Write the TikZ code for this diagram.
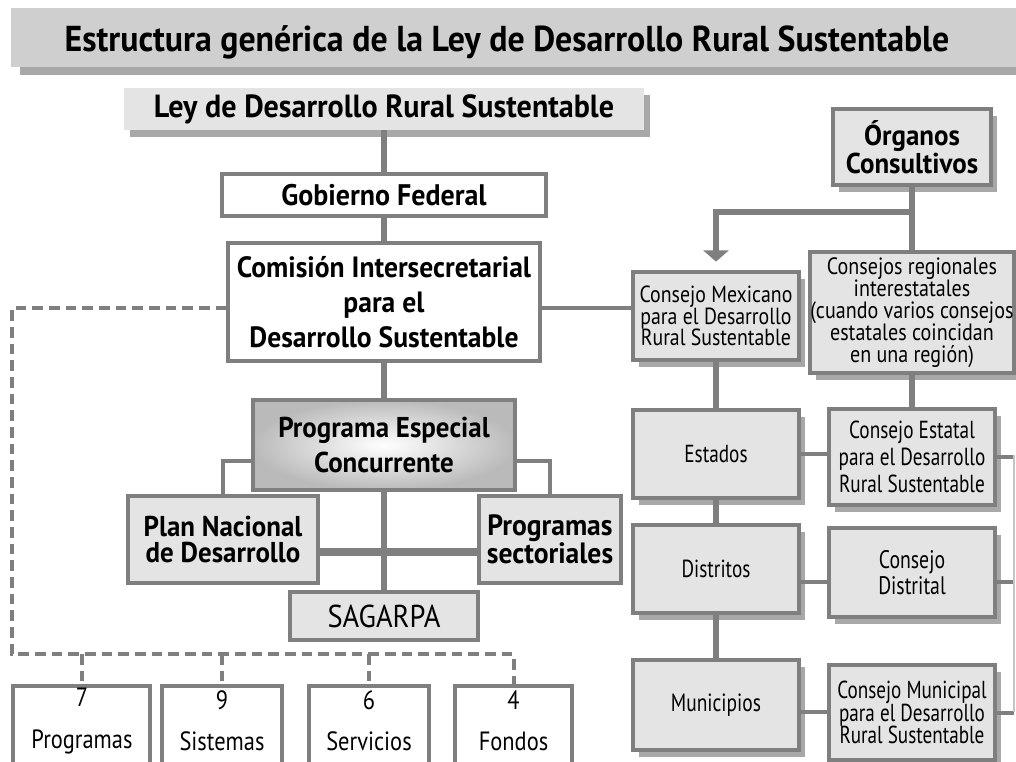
\documentclass[tikz,border=0pt]{standalone}
\usepackage{fontspec}
\setmainfont{PT Sans}[UprightFeatures={FakeStretch=0.85}, BoldFeatures={FakeStretch=0.94}]
\newfontfamily\narrowf{PT Sans}[FakeStretch=0.78]
\newfontfamily\widef{PT Sans}[FakeStretch=0.9]
\usetikzlibrary{shadows,arrows.meta,calc}
\definecolor{lg}{HTML}{7F7F7F}
\definecolor{bfill}{HTML}{E4E4E4}
\definecolor{shd}{HTML}{A8A8A8}
\definecolor{tbar}{HTML}{CFCFCF}
\definecolor{faint}{HTML}{C4C4C4}
\newcommand\myfs[2]{\fontsize{#1}{#2}\selectfont}
\newcommand\mybox[7][]{%
  \node[#1, minimum width={(#5-#3)*0.75pt}, minimum height={(#6-#4)*0.75pt}] (#2) at ({(#3+#5)/2},{(#4+#6)/2}) {#7};}
\tikzset{
  box/.style={draw=lg, line width=2.6pt, inner sep=0pt, align=center},
  gbox/.style={box, fill=bfill},
  wbox/.style={box, fill=white},
  shad/.style={drop shadow={shadow xshift=4.5pt, shadow yshift=-5.25pt, fill=shd, opacity=1}},
  conn/.style={draw=lg, line width=4pt},
  thinconn/.style={draw=lg, line width=3pt},
  thickconn/.style={draw=lg, line width=6pt},
  dashconn/.style={draw=lg, line width=3pt, dash pattern=on 8pt off 4.5pt},
  faintline/.style={draw=faint, line width=1.2pt},
  txt/.style={align=center, inner sep=0pt}
}
\begin{document}
\begin{tikzpicture}[x=0.75pt,y=-0.75pt]
\useasboundingbox (0,0) rectangle (1016,762);
\clip (0,0) rectangle (1016,762);
\fill[white] (0,0) rectangle (1016,762);

% title
\mybox[fill=tbar, inner sep=0pt, drop shadow={shadow xshift=7pt, shadow yshift=-6pt, fill=shd, opacity=1}]{bar}{11}{8}{1020}{67}{}
\node[txt, font=\bfseries\myfs{27}{30}] (title) at (507,42) {Estructura genérica de la Ley de Desarrollo Rural Sustentable};

% left column
\mybox[fill=bfill, inner sep=0pt, shad, font=\bfseries\myfs{24}{26}]{ley}{124}{88}{644}{130}{Ley de Desarrollo Rural Sustentable}
\mybox[wbox, font=\bfseries\myfs{22.3}{26}]{gob}{222}{174}{546}{216}{Gobierno Federal}
\mybox[wbox, font=\bfseries\myfs{22}{26.25}]{com}{228}{243}{540}{361}{Comisión Intersecretarial\\para el\hspace*{1.2em}\\Desarrollo Sustentable}
\mybox[box, inner color=white, outer color=black!27, font=\bfseries\myfs{21.5}{26}]{pec}{253}{400}{515}{490}{Programa Especial\\Concurrente}
\mybox[gbox, font=\bfseries\myfs{21.5}{20}]{plan}{128}{496}{318}{583}{Plan Nacional\\de Desarrollo}
\mybox[gbox, font=\bfseries\myfs{22}{20}]{prog}{479}{496}{621}{583}{Programas\\sectoriales}
\mybox[gbox, font=\widef\myfs{23.7}{24}]{sag}{290}{592}{478}{640}{SAGARPA}

% bottom boxes
\mybox[wbox]{b1}{13}{686}{150}{780}{}
\mybox[wbox]{b2}{162}{686}{282}{780}{}
\mybox[wbox]{b3}{309}{686}{429}{780}{}
\mybox[wbox]{b4}{455}{686}{572}{780}{}
\node[txt, font=\myfs{19.8}{31}] (t1) at (82,721) {7\\Programas};
\node[txt, font=\myfs{19.8}{31}] (t2) at (222,721) {9\\Sistemas};
\node[txt, font=\myfs{19.8}{31}] (t3) at (369,721) {6\\Servicios};
\node[txt, font=\myfs{19.8}{31}] (t4) at (513.5,721) {4\\Fondos};

% right column
\mybox[gbox, shad, font=\bfseries\myfs{21.5}{21}]{org}{833}{109}{991}{185}{Órganos\\Consultivos}
\mybox[gbox, shad, font=\myfs{17.5}{16.2}]{cm}{633}{272}{799}{360}{Consejo Mexicano\\para el Desarrollo\\Rural Sustentable}
\mybox[gbox, shad, font=\myfs{17.7}{16.5}]{reg}{810}{252}{1014}{373}{Consejos regionales\\interestatales\\(cuando varios consejos\\estatales coincidan\\en una región)}
\mybox[gbox, shad, font=\narrowf\myfs{18.5}{20}]{est}{633}{410}{799}{498}{Estados}
\mybox[gbox, shad, font=\narrowf\myfs{18.5}{20}]{dis}{633}{525}{799}{613}{Distritos}
\mybox[gbox, shad, font=\narrowf\myfs{18.7}{20}]{mun}{633}{660}{799}{750}{Municipios}
\mybox[gbox, shad, font=\narrowf\myfs{18.5}{20}]{ce}{829}{409}{995}{505}{Consejo Estatal\\para el Desarrollo\\Rural Sustentable}
\mybox[gbox, shad, font=\narrowf\myfs{19}{19.5}]{cd}{829}{528}{995}{617}{Consejo\\Distrital}
\mybox[gbox, shad, font=\narrowf\myfs{18.4}{17}]{cmun}{829}{665}{995}{760}{Consejo Municipal\\para el Desarrollo\\Rural Sustentable}

% connectors, left column
\draw[conn] (ley.south) -- (gob.north);
\draw[conn] (gob.south) -- (com.north);
\draw[conn] (com.south) -- (pec.north);
\draw[conn] (pec.south) -- (sag.north);
\draw[thinconn] ([yshift=-12pt]pec.west) -| (plan.north);
\draw[thinconn] ([yshift=-12pt]pec.east) -| (prog.north);
\draw[thickconn] ([yshift=-9.4pt]plan.east) -- ([yshift=-9.4pt]plan.east -| prog.west);

% dashed connectors
\coordinate (dtl) at (12,308);
\coordinate (dbl) at (12,654);
\coordinate (dbr) at (513.5,654);
\draw[dashconn] ([yshift=-4.5pt]com.west) -- (dtl) -- (dbl) -- (dbr) -- (b4.north);
\draw[dashconn] (b1.north |- dbl) -- (b1.north);
\draw[dashconn] (b2.north |- dbl) -- (b2.north);
\draw[dashconn] (b3.north |- dbl) -- (b3.north);

% connectors, right column
\draw[thinconn] ([yshift=-4.5pt]com.east) -- ([yshift=-4.5pt]com.east -| cm.west);
\draw[conn] (org.south) -- (reg.north);
\coordinate (br) at (912,212);
\draw[conn, -{Triangle[width=19pt,length=8.5pt]}, shorten >=6.5pt] (br) -| (cm.north);
\draw[conn] (cm.south) -- (est.north);
\draw[conn] (est.south) -- (dis.north);
\draw[conn] (dis.south) -- (mun.north);
\draw[conn] (reg.south -| ce.north) -- (ce.north);
\draw[thinconn] (est.east) -- (est.east -| ce.west);
\draw[thinconn] ([yshift=-9.75pt]dis.east) -- ([yshift=-9.75pt]dis.east -| cd.west);
\draw[thinconn] ([yshift=-5.25pt]mun.east) -- ([yshift=-5.25pt]mun.east -| cmun.west);
\coordinate (rt) at (1014,455);
\coordinate (rb) at (1014,712);
\draw[thinconn] (ce.east) -- (ce.east -| rt);
\draw[thinconn] ([yshift=-7pt]cd.east) -- ([yshift=-7pt]cd.east -| rt);
\draw[thinconn] (cmun.east) -- (cmun.east -| rt);
\draw[faintline] (rt) -- (rb);
\end{tikzpicture}
\end{document}
